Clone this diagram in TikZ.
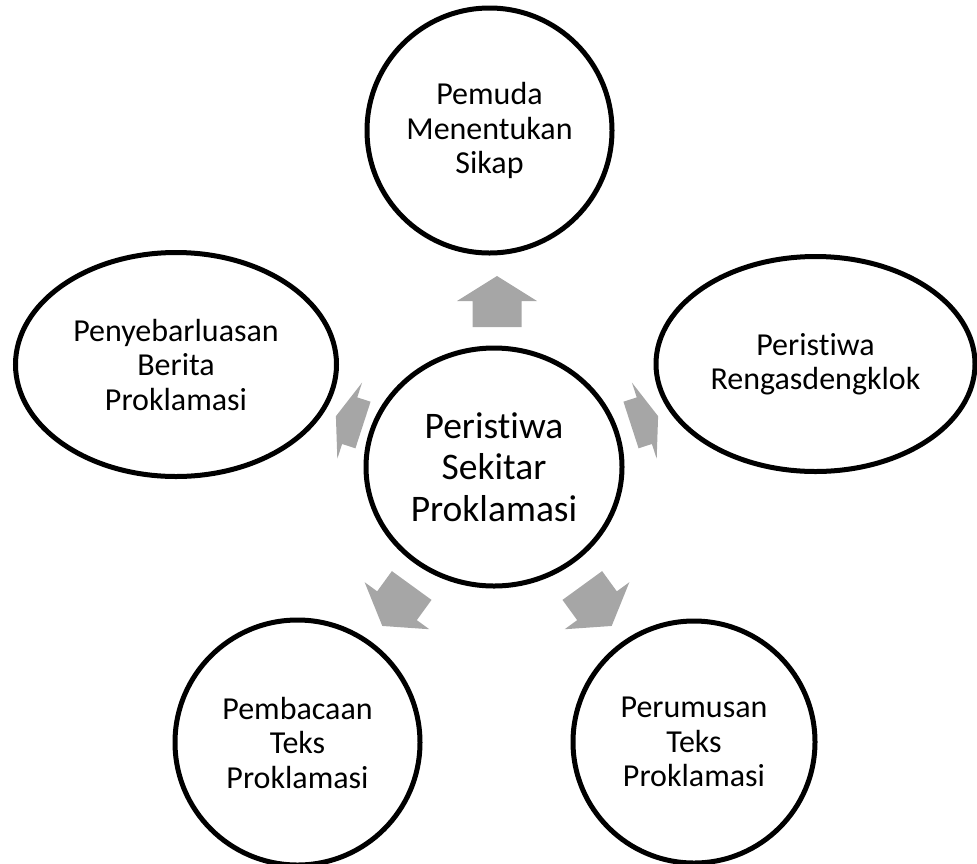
\documentclass[tikz,border=0pt]{standalone}
\usepackage{fontspec}
\setmainfont{Carlito}[Ligatures={NoCommon}]
\usetikzlibrary{shapes.geometric}
\definecolor{arrowgray}{HTML}{A6A6A6}
\newcommand{\bararrow}[5]{%
  \fill[arrowfill, shift={(#1,#2)}, rotate=#3]
    (0,-24.5) -- (#4,-24.5) -- (#4,-40) -- ({#4+#5},0) -- (#4,40) -- (#4,24.5) -- (0,24.5) -- cycle;}
\begin{document}
\begin{tikzpicture}[x=1pt,y=-1pt,
  bubble/.style={draw=black, line width=5pt, ellipse, inner sep=0pt, align=center,
    font=\fontsize{32}{34.5}\selectfont},
  centerbubble/.style={bubble, font=\fontsize{37.5}{41.5}\selectfont},
  arrowfill/.style={fill=arrowgray}]
\useasboundingbox (0,0) rectangle (977,863);

\node[centerbubble, minimum width=256pt, minimum height=238pt] (c) at (494,467)
  {Peristiwa\\Sekitar\\Proklamasi};
\node[bubble, minimum width=245pt, minimum height=245pt] (t) at (489.5,130.5)
  {Pemuda\\Menentukan\\Sikap};
\node[bubble, minimum width=319pt, minimum height=215pt] (r) at (815.5,364)
  {Peristiwa\\Rengasdengklok};
\node[bubble, minimum width=321pt, minimum height=224pt] (l) at (176,364.5)
  {Penyebarluasan\\Berita\\Proklamasi};
\node[bubble, minimum width=245pt, minimum height=245pt] (bl) at (297.5,742.5)
  {Pembacaan\\Teks\\Proklamasi};
\node[bubble, minimum width=242pt, minimum height=242pt] (br) at (694,742)
  {Perumusan\\Teks\\Proklamasi};

\bararrow{497}{327}{90}{26}{25}
\bararrow{631}{425}{18}{14}{14.5}
\bararrow{363}{425}{162}{14}{14.5}
\bararrow{411.7}{585.5}{-126}{25}{25}
\bararrow{582.3}{585.5}{-54}{25}{25}
\end{tikzpicture}
\end{document}
